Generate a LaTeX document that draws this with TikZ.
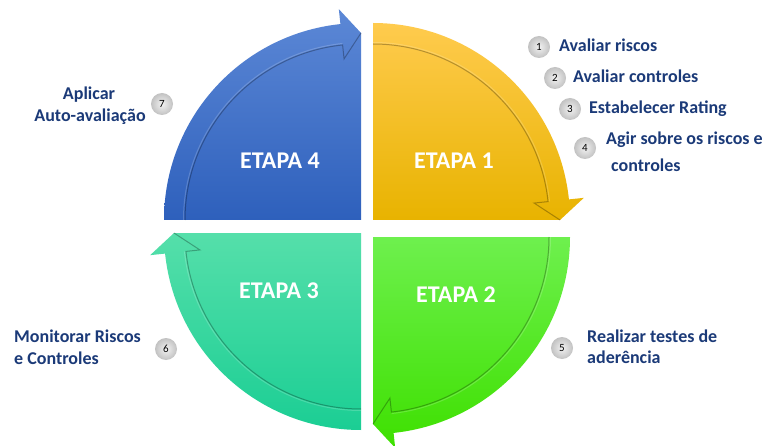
\documentclass[tikz,border=0pt]{standalone}
\usepackage{fontspec}
\setmainfont{Carlito}
\usetikzlibrary{calc}
\definecolor{txtblue}{HTML}{1B3A78}
\definecolor{blueT}{HTML}{5C88D6}
\definecolor{blueM}{HTML}{4473CA}
\definecolor{blueB}{HTML}{2E60BC}
\definecolor{yelT}{HTML}{FFCB4E}
\definecolor{yelM}{HTML}{FFC208}
\definecolor{yelB}{HTML}{E8B300}
\definecolor{grnT}{HTML}{6EF04E}
\definecolor{grnM}{HTML}{52EE1C}
\definecolor{grnB}{HTML}{3EE000}
\definecolor{tealT}{HTML}{55DFAA}
\definecolor{tealM}{HTML}{2CE3A9}
\definecolor{tealB}{HTML}{1BCE94}
\newcommand\etapaquad[5]{%
  \shade[top color=#3, middle color=#4, bottom color=#5]
    (#1) -- ++(#2:197) arc[start angle=#2, end angle=#2-84, radius=197]
    -- ++(#2-84:15) -- ($(#1)+(#2-90:187)$) -- cycle;
  \draw[shadowline] ($(#1)+(#2:176)$) arc[start angle=#2, end angle=#2-84, radius=176]
    -- ($(#1)+(#2-84:162)$) -- ($(#1)+(#2-90:187)$);
  \draw[hiline] ($(#1)+(#2:177.5)$) arc[start angle=#2, end angle=#2-84, radius=177.5];
}
\begin{document}
\begin{tikzpicture}[x=1pt,y=1pt,
  etapa/.style={text=white, font=\bfseries\fontsize{24}{28}\selectfont, inner sep=0},
  lbl/.style={text=txtblue, font=\bfseries\fontsize{18}{22}\selectfont, inner sep=0, anchor=base west},
  lblc/.style={lbl, anchor=base},
  numc/.style={circle, minimum size=22pt, inner sep=0, inner color=gray!10, outer color=gray!48,
     font=\fontsize{11}{12}\selectfont, text=black},
  shadowline/.style={draw=black, opacity=0.28, line width=1pt},
  hiline/.style={draw=white, opacity=0.18, line width=1pt}]
\useasboundingbox (0,0) rectangle (768,445);
\fill[white] (0,0) rectangle (768,445);

\coordinate (c4) at (361,225);
\coordinate (c1) at (373,225);
\coordinate (c2) at (373,208);
\coordinate (c3) at (361,212);

\etapaquad{c4}{180}{blueT}{blueM}{blueB}
\etapaquad{c1}{90}{yelT}{yelM}{yelB}
\etapaquad{c2}{0}{grnT}{grnM}{grnB}
\etapaquad{c3}{-90}{tealT}{tealM}{tealB}

\node[etapa] (e4) at (280,284) {ETAPA 4};
\node[etapa] (e1) at (454,284) {ETAPA 1};
\node[etapa] (e3) at (279,154) {ETAPA 3};
\node[etapa] (e2) at (456,150) {ETAPA 2};

\node[numc] (n1) at (539,398) {1};
\node[numc] (n2) at (555,367) {2};
\node[numc] (n3) at (570,336) {3};
\node[numc] (n4) at (585,297) {4};
\node[numc] (n5) at (562,97) {5};
\node[numc] (n6) at (166,96) {6};
\node[numc] (n7) at (162,341) {7};

\node[lbl] (l1) at (559,393) {Avaliar riscos};
\node[lbl] (l2) at (573,362) {Avaliar controles};
\node[lbl] (l3) at (589,331) {Estabelecer Rating};
\node[lbl] (l4a) at (606,300) {Agir sobre os riscos e};
\node[lbl] (l4b) at (611,273) {controles};
\node[lbl] (l5a) at (587,103) {Realizar testes de};
\node[lbl] (l5b) at (587,82) {aderência};
\node[lbl] (l6a) at (14,103) {Monitorar Riscos};
\node[lbl] (l6b) at (14,81) {e Controles};
\node[lblc] (l7a) at (89,345) {Aplicar};
\node[lblc] (l7b) at (90,323) {Auto-avaliação};
\end{tikzpicture}
\end{document}
